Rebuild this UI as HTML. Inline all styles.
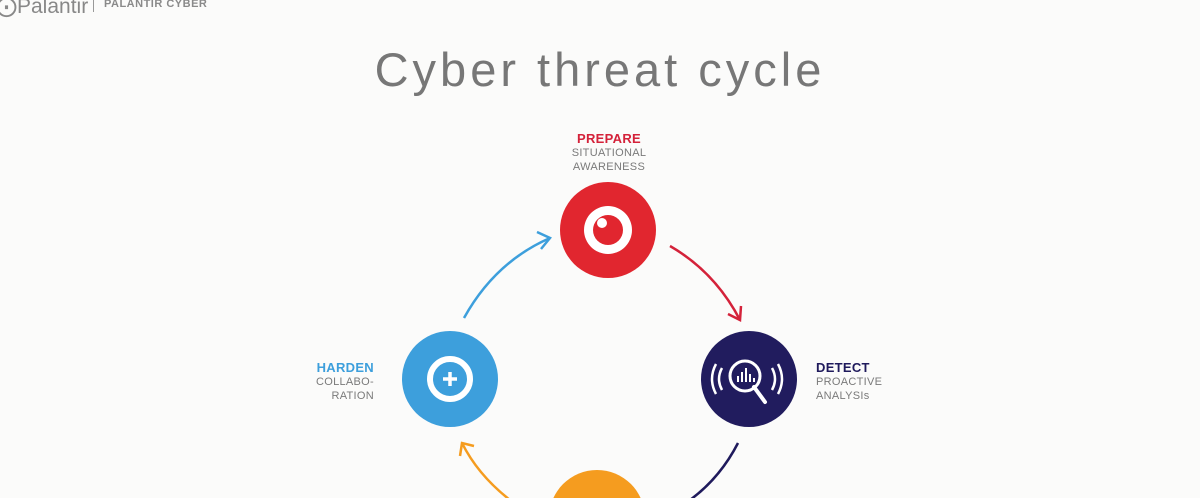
<!DOCTYPE html>
<html style="overflow:hidden"><head><style>
html,body{margin:0;width:1200px;height:498px;overflow:hidden}
body{background:#fbfbfa;font-family:"Liberation Sans",sans-serif;position:relative}
.t{position:absolute;font-size:11px;line-height:14px;color:#7a7a7a;letter-spacing:.3px}
.h{font-weight:bold;font-size:13px;line-height:15px}
</style></head><body>
<div style="position:absolute;left:-4px;top:-6px;font-size:21px;color:#888">&#x2A00;Palantir</div>
<div style="position:absolute;left:93px;top:-4px;width:1px;height:16px;background:#999"></div>
<div style="position:absolute;left:104px;top:-2px;font-size:11px;font-weight:bold;color:#8a8a8a;letter-spacing:.5px">PALANTIR CYBER</div>
<div style="position:absolute;left:0;width:1200px;top:42px;text-align:center;font-size:47px;color:#777;letter-spacing:4px">Cyber threat cycle</div>
<div class="t" style="left:560px;top:131px;width:98px;text-align:center"><div class="h" style="color:#d4223a">PREPARE</div>SITUATIONAL<br>AWARENESS</div>
<div class="t" style="left:816px;top:360px"><div class="h" style="color:#1f1a5c">DETECT</div>PROACTIVE<br>ANALYSIs</div>
<div class="t" style="left:300px;top:360px;width:74px;text-align:right"><div class="h" style="color:#3d9fdc">HARDEN</div>COLLABO-<br>RATION</div>
<svg width="1200" height="498" style="position:absolute;left:0;top:0">
<path d="M464 318 Q495 262 550 238" fill="none" stroke="#3d9fdc" stroke-width="2.5"/>
<path d="M537 232 L550 238 L541 249" fill="none" stroke="#3d9fdc" stroke-width="2.5"/>
<path d="M670 246 Q715 272 740 320" fill="none" stroke="#d4223a" stroke-width="2.5"/>
<path d="M728 314 L740 320 L741 306" fill="none" stroke="#d4223a" stroke-width="2.5"/>
<path d="M738 443 Q720 478 690 500" fill="none" stroke="#1f1a5c" stroke-width="2.5"/>
<path d="M510 500 Q478 475 462 443" fill="none" stroke="#f59c1f" stroke-width="2.5"/>
<path d="M460 456 L462 443 L474 446" fill="none" stroke="#f59c1f" stroke-width="2.5"/>
<circle cx="608" cy="230" r="48" fill="#e1262f"/>
<circle cx="608" cy="230" r="24" fill="#fff"/>
<circle cx="608" cy="230" r="15" fill="#e1262f"/>
<circle cx="602" cy="223" r="5" fill="#fff"/>
<circle cx="749" cy="379" r="48" fill="#211c5e"/>
<circle cx="745" cy="376" r="15" fill="none" stroke="#fff" stroke-width="3"/>
<path d="M754 387 L765 402" stroke="#fff" stroke-width="4" stroke-linecap="round"/>
<path d="M738 382V376M742 382V372M746 382V368M750 382V374M754 382V378" stroke="#fff" stroke-width="2"/>
<path d="M722 368 Q716 379 722 390M716 364 Q708 379 716 394M772 368 Q778 379 772 390M778 364 Q786 379 778 394" fill="none" stroke="#fff" stroke-width="2.5"/>
<circle cx="450" cy="379" r="48" fill="#3d9fdc"/>
<circle cx="450" cy="379" r="20" fill="none" stroke="#fff" stroke-width="6"/>
<circle cx="450" cy="379" r="12" fill="#3d9fdc"/>
<path d="M450 372V386M443 379H457" stroke="#fff" stroke-width="3.5"/>
<circle cx="597" cy="518" r="48" fill="#f59c1f"/>
</svg>
</body></html>
